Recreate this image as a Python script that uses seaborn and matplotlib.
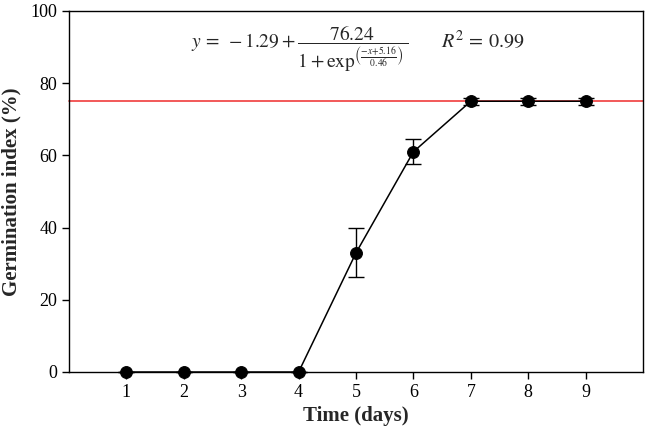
import matplotlib
matplotlib.use("Agg")
import matplotlib.pyplot as plt
import seaborn as sns
import pandas as pd

days = [1, 2, 3, 4, 5, 6, 7, 8, 9]
germination = [0, 0, 0, 0, 33, 61, 75, 75, 75]
errors = [0, 0, 0, 0, 6.8, 3.5, 1.0, 1.0, 1.0]
x_ticks = [1, 2, 3, 4, 5, 6, 7, 8, 9]
y_ticks = [0, 20, 40, 60, 80, 100]
reference_level = 75

sns.set_style("ticks")
plt.rcParams['font.family'] = ['Liberation Serif', 'DejaVu Serif']
plt.rcParams['mathtext.fontset'] = 'stix'

df = pd.DataFrame({"day": days, "gi": germination, "err": errors})

fig = plt.figure(figsize=(6.46, 4.38), dpi=100)
ax = fig.add_axes([0.1068, 0.1507, 0.8886, 0.8242])

ax.axhline(reference_level, color="#f03c3c", lw=1.2, zorder=1)
ax.errorbar(df["day"], df["gi"], yerr=df["err"], fmt="none", ecolor="black",
            elinewidth=1, capsize=6, capthick=1, zorder=2)
sns.lineplot(data=df, x="day", y="gi", ax=ax, color="black", lw=1.1,
             marker="o", markersize=8.5, markeredgecolor="black", zorder=3)
for ln in ax.lines:
    ln.set_clip_on(False)

ax.set_xlim(0, 10)
ax.set_ylim(0, 100)
ax.set_xticks(x_ticks)
ax.set_yticks(y_ticks)
ax.tick_params(direction="out", length=5, width=1, labelsize=13, colors="black")
for s in ax.spines.values():
    s.set_linewidth(1)
    s.set_color("black")

ax.set_xlabel("Time (days)", fontsize=15, fontweight="bold", labelpad=4)
ax.set_ylabel("Germination index (%)", fontsize=15, fontweight="bold", labelpad=6)

ax.text(0.212, 0.895,
        r"$y\,=\;-1.29+\dfrac{76.24}{1+\exp^{\left(\frac{-x+5.16}{0.46}\right)}}$",
        transform=ax.transAxes, fontsize=14, va="center", ha="left")
ax.text(0.648, 0.915, r"$R^2\,=\,0.99$", transform=ax.transAxes,
        fontsize=14.5, va="center", ha="left")

fig.savefig("out.png", dpi=100)
